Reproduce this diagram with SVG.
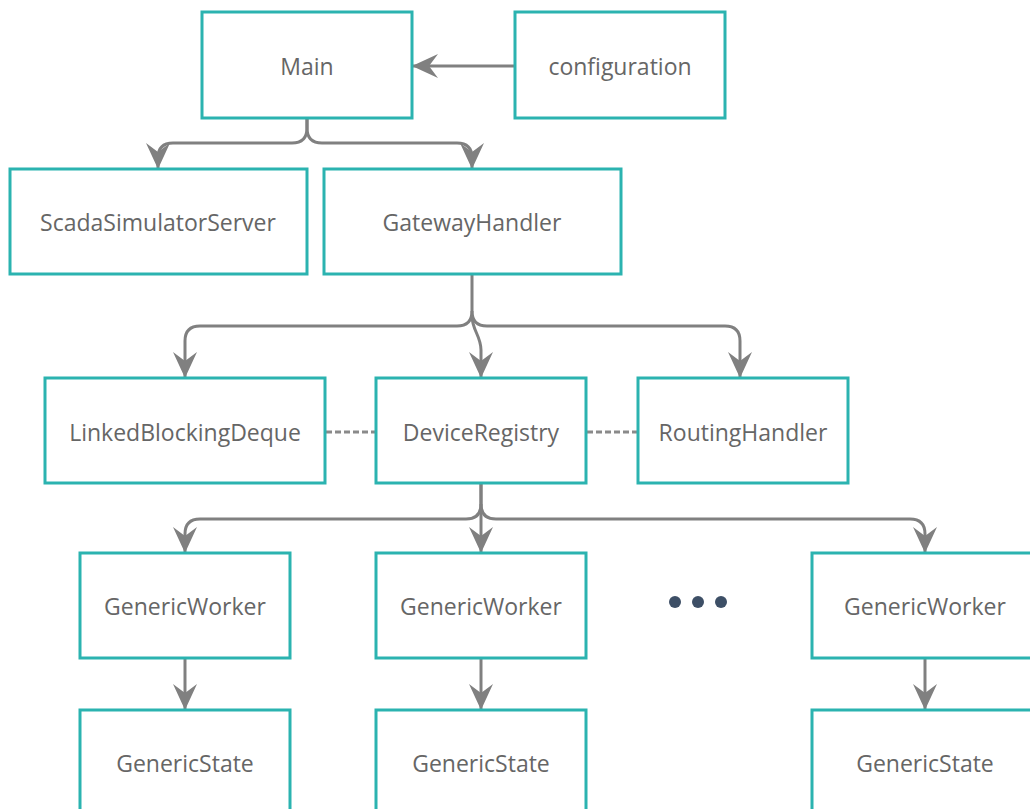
<svg xmlns="http://www.w3.org/2000/svg" width="1030" height="809" viewBox="0 0 1030 809">
<style>
.box{fill:#fff;stroke:#2bb3b0;stroke-width:3}
.lbl{font-family:"Open Sans","Noto Sans",sans-serif;font-size:23px;fill:#666;text-anchor:middle;dominant-baseline:central}
.conn{fill:none;stroke:#808080;stroke-width:3}
.arr{marker-end:url(#ah)}
.dash{fill:none;stroke:#8a8a8a;stroke-width:3;stroke-dasharray:6 3}
</style>
<defs>
<marker id="ah" viewBox="-28 -14 30 28" refX="0" refY="0" markerWidth="30" markerHeight="28" markerUnits="userSpaceOnUse" orient="auto">
<path d="M0,0 L-26,-12 L-17,0 L-26,12 Z" fill="#808080"/>
</marker>
</defs>
<rect width="1030" height="809" fill="#fff"/>
<g id="connectors">
<path class="conn arr" d="M515,66 H412"/>
<path class="conn arr" d="M307,118 V128 Q307,143 292,143 H173 Q158,143 158,158 V169"/>
<path class="conn arr" d="M307,118 V128 Q307,143 322,143 H457 Q472,143 472,158 V169"/>
<path class="conn arr" d="M472,274 V311 Q472,326 457,326 H200 Q185,326 185,341 V378"/>
<path class="conn arr" d="M472,311 Q472,326 487,326 H725 Q740,326 740,341 V378"/>
<path class="conn arr" d="M472,316 C472,330 481,336 481,350 V378"/>
<path class="conn arr" d="M481,483 V504 Q481,519 466,519 H200 Q185,519 185,534 V553"/>
<path class="conn arr" d="M481,504 Q481,519 496,519 H910 Q925,519 925,534 V553"/>
<path class="conn arr" d="M481,483 V553"/>
<path class="conn arr" d="M185,658 V710"/>
<path class="conn arr" d="M481,658 V710"/>
<path class="conn arr" d="M925,658 V710"/>
<path class="dash" d="M326,432 H375"/>
<path class="dash" d="M587,432 H637"/>
</g>
<g id="main"><rect class="box" x="202" y="12" width="210" height="106"/><text class="lbl" x="307" y="66">Main</text></g>
<g id="configuration"><rect class="box" x="515" y="12" width="210" height="106"/><text class="lbl" x="620" y="66">configuration</text></g>
<g id="scada"><rect class="box" x="10" y="169" width="297" height="105"/><text class="lbl" x="158" y="222">ScadaSimulatorServer</text></g>
<g id="gateway"><rect class="box" x="324" y="169" width="297" height="105"/><text class="lbl" x="472" y="222">GatewayHandler</text></g>
<g id="deque"><rect class="box" x="45" y="378" width="280" height="105"/><text class="lbl" x="185" y="432">LinkedBlockingDeque</text></g>
<g id="registry"><rect class="box" x="376" y="378" width="210" height="105"/><text class="lbl" x="481" y="432">DeviceRegistry</text></g>
<g id="routing"><rect class="box" x="638" y="378" width="210" height="105"/><text class="lbl" x="743" y="432">RoutingHandler</text></g>
<g id="worker1"><rect class="box" x="80" y="553" width="210" height="105"/><text class="lbl" x="185" y="606">GenericWorker</text></g>
<g id="worker2"><rect class="box" x="376" y="553" width="210" height="105"/><text class="lbl" x="481" y="606">GenericWorker</text></g>
<g id="worker3"><rect class="box" x="812" y="553" width="230" height="105"/><text class="lbl" x="925" y="606">GenericWorker</text></g>
<g id="state1"><rect class="box" x="80" y="710" width="210" height="110"/><text class="lbl" x="185" y="763">GenericState</text></g>
<g id="state2"><rect class="box" x="376" y="710" width="210" height="110"/><text class="lbl" x="481" y="763">GenericState</text></g>
<g id="state3"><rect class="box" x="812" y="710" width="230" height="110"/><text class="lbl" x="925" y="763">GenericState</text></g>
<g id="ellipsis" fill="#3d4f66"><circle cx="675" cy="602" r="6"/><circle cx="698" cy="602" r="6"/><circle cx="721" cy="602" r="6"/></g>
</svg>
